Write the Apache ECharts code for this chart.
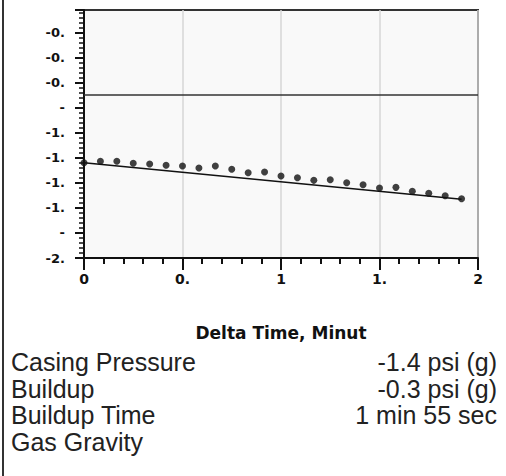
<!DOCTYPE html>
<html>
<head>
<meta charset="utf-8">
<script src="https://cdn.jsdelivr.net/npm/echarts@6/dist/echarts.min.js"></script>
<style>
html,body{margin:0;padding:0;background:#fff;}
#c{width:506px;height:476px;}
</style>
</head>
<body>
<div id="c"></div>
<script>
// Data
var timeSec = [0,5,10,15,20,25,30,35,40,45,50,55,60,65,70,75,80,85,90,95,100,105,110,115];
var pressure = [-1.239,-1.228,-1.228,-1.244,-1.250,-1.260,-1.265,-1.281,-1.265,-1.292,-1.319,-1.313,
                -1.345,-1.359,-1.380,-1.375,-1.399,-1.415,-1.441,-1.436,-1.467,-1.483,-1.503,-1.527];
var fitTimeSec = [0, 115];
var fitPressure = [-1.239, -1.531];
var refLevel = -0.7;
var yTickValues = [-2.0,-1.8,-1.6,-1.4,-1.2,-1.0,-0.8,-0.6,-0.4,-0.2];
var yTickLabels = ['-2.','-','-1.','-1.','-1.','-1.','-','-0.','-0.','-0.'];
var xTickValues = [0,0.5,1,1.5,2];
var xTickLabels = ['0','0.','1','1.','2'];
var xAxisTitle = 'Delta Time, Minut';
var infoLabels = ['Casing Pressure','Buildup','Buildup Time','Gas Gravity'];
var infoValues = ['-1.4 psi (g)','-0.3 psi (g)','1 min 55 sec',''];

var points = timeSec.map(function(s,i){ return [s/60, pressure[i]]; });
var fit = fitTimeSec.map(function(s,i){ return [s/60, fitPressure[i]]; });

function lookup(vals, labels, v){
  for (var i=0;i<vals.length;i++){ if (Math.abs(vals[i]-v)<1e-6) return labels[i]; }
  return '';
}

var graphics = [{
  type:'line', shape:{x1:3,y1:0,x2:3,y2:476}, style:{stroke:'#333',lineWidth:2}, silent:true
}];
var rowY = [362, 388.5, 415, 441.5];
var infoFont = '25px "Liberation Sans", Arial, sans-serif';
infoLabels.forEach(function(t,i){
  graphics.push({type:'text', x:11, y:rowY[i], silent:true,
    style:{text:t, font:infoFont, fill:'#222', textAlign:'left', textVerticalAlign:'middle'}});
  if (infoValues[i]) {
    graphics.push({type:'text', x:497, y:rowY[i], silent:true,
      style:{text:infoValues[i], font:infoFont, fill:'#222', textAlign:'right', textVerticalAlign:'middle'}});
  }
});

var chart = echarts.init(document.getElementById('c'), null, {renderer:'svg'});
chart.setOption({
  animation:false,
  backgroundColor:'#fff',
  grid:{left:84, right:28, top:10, bottom:218, show:true, backgroundColor:'#f9f9f9', borderColor:'#333', borderWidth:2},
  xAxis:{
    type:'value', min:0, max:2, interval:0.5,
    name:xAxisTitle, nameLocation:'middle', nameGap:66,
    nameTextStyle:{fontFamily:'"DejaVu Sans", sans-serif', fontWeight:'bold', fontSize:17, color:'#111'},
    axisLine:{show:true, onZero:false, lineStyle:{color:'#111', width:2}},
    axisTick:{show:true, length:12, lineStyle:{color:'#111', width:2}},
    minorTick:{show:true, splitNumber:5, length:6, lineStyle:{color:'#111', width:2}},
    splitLine:{show:true, lineStyle:{color:'#d6d6d6', width:1.5}},
    minorSplitLine:{show:false},
    axisLabel:{margin:14, fontFamily:'"DejaVu Sans", sans-serif', fontWeight:'bold', fontSize:14, color:'#111',
      formatter:function(v){ return lookup(xTickValues, xTickLabels, v); }}
  },
  yAxis:{
    type:'value', min:-2.0, max:-0.02, interval:0.2,
    axisLine:{show:true, onZero:false, lineStyle:{color:'#111', width:2}},
    axisTick:{show:true, length:9, lineStyle:{color:'#111', width:2}},
    minorTick:{show:true, splitNumber:5, length:5, lineStyle:{color:'#111', width:1.5}},
    splitLine:{show:false},
    axisLabel:{margin:19, fontFamily:'"DejaVu Sans", sans-serif', fontWeight:'bold', fontSize:13, color:'#111',
      showMaxLabel:false,
      formatter:function(v){ return lookup(yTickValues, yTickLabels, v); }}
  },
  series:[
    {type:'line', data:fit, showSymbol:false, symbol:'none', lineStyle:{color:'#111', width:1.5}, z:3,
     markLine:{silent:true, symbol:'none', label:{show:false}, lineStyle:{color:'#333', type:'solid', width:1.5},
       data:[{yAxis:refLevel}]}},
    {type:'scatter', data:points, symbolSize:7, itemStyle:{color:'#111'}, z:4}
  ],
  graphic:graphics
});
</script>
</body>
</html>
